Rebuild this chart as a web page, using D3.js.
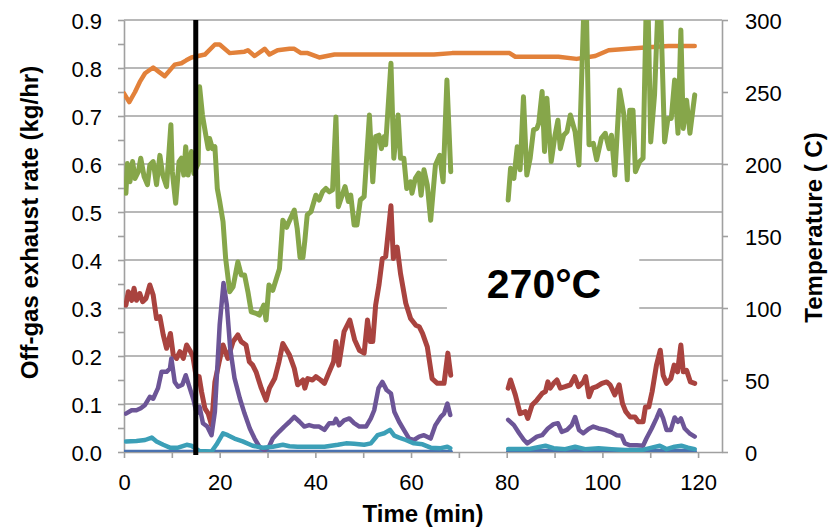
<!DOCTYPE html>
<html><head><meta charset="utf-8">
<script src="https://cdn.jsdelivr.net/npm/d3@7/dist/d3.min.js"></script>
<style>body{margin:0;background:#fff}svg{display:block}</style>
</head><body>
<svg id="c" width="838" height="529"></svg>
<script>
// ---- data (time in min, rates in kg/hr, temperature in °C) ----
const xTicks = [0, 20, 40, 60, 80, 100, 120];
const yLeftTicks = [0, 0.1, 0.2, 0.3, 0.4, 0.5, 0.6, 0.7, 0.8, 0.9];
const yRightTicks = [0, 50, 100, 150, 200, 250, 300];
const markerTime = 15;
const labelText = "270°C";

const temperature = [[0,249],[1.1,243],[2.3,250],[3.3,257],[4.4,263],[6.1,267],[7.3,264],[8.5,261],[10.6,269],[12,270],[13,272],[14.1,274],[15.5,275],[16.9,276],[19,283],[20,283],[22.1,277],[25.2,278],[25.9,279],[27.3,275],[29.4,280],[30.4,276],[32.1,279],[34.6,280],[35.6,280],[37,277],[38.4,277],[40.8,274],[44,276],[50.9,276],[57.9,276],[64.8,276],[68.6,277],[78.3,277],[80.6,277],[81.8,274.5],[85.3,274.5],[90.8,274.5],[94.6,273],[98.5,275],[101.3,279],[105.4,280],[109.6,281],[113.8,282],[116.9,282],[119.3,282]];

const green = [[0.4,0.539],[0.7,0.601],[1.25,0.563],[1.8,0.605],[2.3,0.570],[3.0,0.584],[3.5,0.612],[4.2,0.574],[4.9,0.557],[5.4,0.598],[6.1,0.605],[6.8,0.557],[7.5,0.618],[8.1,0.577],[8.9,0.553],[9.8,0.682],[10.1,0.584],[10.8,0.518],[11.5,0.605],[12.0,0.612],[12.5,0.577],[12.9,0.636],[13.4,0.577],[14.1,0.626],[14.6,0.58],[15.5,0.601],[15.8,0.761],[16.4,0.702],[17.1,0.660],[17.6,0.632],[17.9,0.653],[18.5,0.632],[19.0,0.636],[19.5,0.549],[20.0,0.522],[20.7,0.480],[21.25,0.403],[22.1,0.334],[22.8,0.344],[23.8,0.396],[24.5,0.369],[25.2,0.369],[25.9,0.334],[26.6,0.292],[27.6,0.289],[28.3,0.285],[29.2,0.306],[29.7,0.275],[30.3,0.348],[31.1,0.337],[32.5,0.382],[33.2,0.483],[34.0,0.468],[34.5,0.48],[35.6,0.504],[36.2,0.466],[36.8,0.405],[37.4,0.405],[37.8,0.44],[38.3,0.494],[39.1,0.501],[40.1,0.535],[40.8,0.525],[41.5,0.542],[42.2,0.549],[42.9,0.542],[43.6,0.546],[44.3,0.698],[44.8,0.511],[45.5,0.532],[46.2,0.553],[46.9,0.522],[47.4,0.535],[48.1,0.473],[48.7,0.473],[49.4,0.525],[50.2,0.532],[51.3,0.702],[52.0,0.563],[52.6,0.657],[53.3,0.660],[53.8,0.632],[54.4,0.657],[54.7,0.640],[55.8,0.810],[56.4,0.612],[57.3,0.702],[57.8,0.612],[58.5,0.612],[59.1,0.549],[59.9,0.563],[60.2,0.539],[60.9,0.570],[61.6,0.581],[62.1,0.535],[62.7,0.588],[63.4,0.556],[64.1,0.483],[65.1,0.598],[66.0,0.618],[66.7,0.563],[67.5,0.775],[68.3,0.584],
 [74,null],
 [80.3,0.525],[80.8,0.591],[81.5,0.570],[82.2,0.636],[82.8,0.588],[83.5,0.740],[84.2,0.577],[84.9,0.612],[85.6,0.671],[86.3,0.674],[86.7,0.685],[87.4,0.751],[87.9,0.626],[88.4,0.737],[89.3,0.605],[90.1,0.660],[90.7,0.691],[91.2,0.632],[91.9,0.660],[92.6,0.667],[93.3,0.702],[94.3,0.667],[95.1,0.598],[96.2,0.95],[96.6,0.95],[97.2,0.640],[98.1,0.643],[98.8,0.609],[99.8,0.654],[100.6,0.664],[101.4,0.632],[101.9,0.660],[102.6,0.577],[103.6,0.754],[104.5,0.702],[105.2,0.567],[105.7,0.712],[106.4,0.712],[106.9,0.584],[107.8,0.605],[108.5,0.612],[109.2,0.95],[109.5,0.95],[110.1,0.646],[110.9,0.744],[111.7,0.95],[112.1,0.95],[113.0,0.646],[113.7,0.695],[114.4,0.695],[115.1,0.775],[115.8,0.664],[116.4,0.879],[116.9,0.674],[117.6,0.733],[118.3,0.664],[119.3,0.744]];

const red = [[0.4,0.306],[0.9,0.334],[1.6,0.316],[2.1,0.341],[2.6,0.316],[3.3,0.330],[3.9,0.313],[4.6,0.320],[5.4,0.348],[6.1,0.327],[6.8,0.278],[7.5,0.282],[8.2,0.244],[8.9,0.216],[9.7,0.247],[10.3,0.202],[11.0,0.195],[11.7,0.209],[12.4,0.195],[13.1,0.223],[13.75,0.212],[14.4,0.199],[15.2,0.15],[15.7,0.157],[16.2,0.126],[16.9,0.091],[17.6,0.080],[18.3,0.056],[19.0,0.146],[19.9,0.188],[20.7,0.223],[21.7,0.195],[22.8,0.230],[23.8,0.244],[24.5,0.230],[25.5,0.223],[26.2,0.188],[26.9,0.181],[27.6,0.167],[28.7,0.133],[29.7,0.108],[30.4,0.133],[31.5,0.153],[32.4,0.188],[33.2,0.226],[34.6,0.202],[35.6,0.174],[36.3,0.140],[37.4,0.150],[37.8,0.133],[38.4,0.153],[39.4,0.150],[40.1,0.157],[41.1,0.150],[41.9,0.143],[42.9,0.167],[43.8,0.188],[44.3,0.230],[44.9,0.181],[46.0,0.251],[47.2,0.275],[48.2,0.234],[49.2,0.212],[50.2,0.206],[50.9,0.275],[51.5,0.230],[52.0,0.230],[52.6,0.306],[53.3,0.348],[54.0,0.403],[54.7,0.407],[55.8,0.513],[56.3,0.403],[57.1,0.427],[57.8,0.372],[58.9,0.310],[59.9,0.278],[61.0,0.264],[61.7,0.261],[62.4,0.247],[63.4,0.219],[64.4,0.153],[65.5,0.143],[66.9,0.143],[67.7,0.206],[68.3,0.160],
 [74,null],
 [80.3,0.133],[80.8,0.150],[81.8,0.119],[82.8,0.080],[83.9,0.084],[84.4,0.070],[85.3,0.098],[86.3,0.108],[87.4,0.122],[88.1,0.126],[88.6,0.146],[89.1,0.133],[89.8,0.143],[90.5,0.150],[91.2,0.133],[92.2,0.136],[93.3,0.140],[94.2,0.157],[95.0,0.136],[96.0,0.146],[96.5,0.157],[97.2,0.115],[97.9,0.133],[98.8,0.136],[99.9,0.143],[100.9,0.146],[101.6,0.140],[102.6,0.119],[103.5,0.140],[104.2,0.101],[104.9,0.084],[105.8,0.073],[106.8,0.073],[107.5,0.063],[108.5,0.063],[109.0,0.094],[109.7,0.094],[110.4,0.126],[111.3,0.181],[112.1,0.212],[112.7,0.160],[113.4,0.143],[114.3,0.153],[115.0,0.181],[115.7,0.167],[116.4,0.223],[116.9,0.167],[117.6,0.170],[118.4,0.146],[119.3,0.143]];

const purple = [[0.4,0.080],[1.6,0.087],[2.6,0.087],[3.5,0.091],[4.4,0.098],[5.4,0.115],[6.1,0.111],[7.1,0.133],[7.85,0.167],[8.9,0.167],[9.6,0.174],[9.9,0.195],[10.6,0.146],[11.3,0.136],[12.2,0.140],[12.9,0.160],[13.75,0.133],[14.5,0.11],[15.2,0.08],[15.8,0.094],[16.5,0.060],[17.4,0.053],[18.3,0.035],[19.0,0.084],[20.0,0.265],[20.8,0.352],[21.5,0.306],[22.2,0.216],[23.1,0.154],[24.2,0.112],[25.2,0.080],[26.3,0.049],[27.3,0.028],[28.3,0.011],[29.4,0.004],[30.3,0.011],[31.1,0.028],[32.4,0.042],[33.5,0.053],[34.6,0.063],[35.6,0.073],[36.7,0.063],[37.7,0.053],[38.7,0.056],[39.8,0.053],[40.8,0.053],[41.9,0.046],[42.9,0.060],[43.9,0.060],[44.3,0.069],[45.0,0.056],[46.0,0.066],[47.1,0.070],[48.1,0.060],[49.2,0.053],[50.6,0.053],[51.6,0.070],[52.3,0.087],[53.2,0.133],[54.0,0.146],[54.9,0.129],[55.8,0.122],[56.5,0.084],[57.5,0.063],[58.5,0.046],[59.6,0.028],[60.6,0.025],[61.7,0.032],[62.7,0.035],[64.1,0.028],[65.1,0.056],[66.2,0.073],[66.9,0.080],[67.6,0.101],[68.2,0.077],
 [74,null],
 [80.3,0.067],[81.5,0.056],[82.6,0.039],[83.6,0.025],[84.3,0.018],[85.3,0.025],[86.3,0.032],[87.4,0.035],[88.6,0.049],[89.8,0.058],[90.7,0.060],[91.5,0.042],[92.6,0.046],[93.6,0.056],[94.3,0.073],[95.1,0.046],[96.0,0.039],[97.1,0.048],[98.1,0.053],[99.2,0.049],[100.6,0.046],[101.9,0.041],[103.0,0.035],[104.0,0.034],[104.7,0.018],[105.8,0.014],[107.2,0.014],[108.5,0.013],[109.2,0.028],[110.3,0.049],[111.3,0.070],[112.0,0.087],[112.7,0.070],[113.4,0.046],[114.3,0.046],[115.1,0.072],[115.8,0.063],[116.4,0.070],[117.2,0.049],[118.2,0.039],[119.3,0.032]];

const teal = [[0.4,0.022],[2.6,0.023],[4.4,0.025],[5.8,0.030],[6.8,0.022],[8.2,0.015],[9.6,0.009],[11.3,0.009],[13.1,0.015],[14.1,0.013],[15.8,0.002],[18.3,0.001],[19.3,0.015],[20.7,0.039],[21.7,0.035],[23.1,0.028],[24.8,0.022],[26.9,0.013],[29.0,0.009],[31.1,0.011],[33.2,0.015],[34.6,0.012],[36.3,0.011],[39.1,0.011],[41.9,0.011],[44.7,0.015],[46.4,0.018],[48.1,0.017],[50.2,0.015],[51.6,0.018],[53.0,0.035],[54.4,0.039],[55.6,0.046],[56.5,0.034],[57.5,0.030],[58.9,0.025],[60.6,0.018],[62.4,0.016],[64.1,0.009],[66.2,0.008],[67.6,0.011],[68.2,0.008],
 [74,null],
 [80.3,0.006],[82.6,0.006],[84.6,0.006],[86.0,0.009],[88.1,0.013],[89.8,0.008],[92.2,0.006],[94.3,0.011],[96.4,0.006],[99.2,0.008],[101.9,0.006],[104.7,0.004],[108.2,0.004],[110.3,0.009],[112.0,0.013],[113.4,0.006],[115.1,0.011],[116.5,0.013],[117.9,0.009],[119.3,0.006]];

const blue = [[0,0.0],[68.3,0.0],[74,null],[80.3,0.0],[88,0.002],[95,0.002],[104,0.001],[112,0.002],[117,0.002],[119.3,0.001]];

// ---- layout ----
const svg = d3.select("#c");
const L = 124, R = 722, T = 20, B = 452;
const x = d3.scaleLinear([0, 125], [L, R]);
const yL = d3.scaleLinear([0, 0.9], [B, T]);
const yR = d3.scaleLinear([0, 300], [B, T]);
const FONT = "'Liberation Sans', Arial, Helvetica, sans-serif";
const GRID = "#a0a0a0";

svg.append("defs").append("clipPath").attr("id","plot")
  .append("rect").attr("x", L).attr("y", T).attr("width", R - L).attr("height", B - T);

// gridlines
svg.append("g").selectAll("line").data(yLeftTicks.filter(d => d > 0)).join("line")
  .attr("x1", L).attr("x2", R).attr("y1", d => yL(d)).attr("y2", d => yL(d))
  .attr("stroke", GRID).attr("stroke-width", 1.6);

// axes
const minorLeft = d3.range(0, 0.901, 0.05);
const gl = svg.append("g").attr("transform", `translate(${L},0)`)
  .call(d3.axisLeft(yL).tickValues(minorLeft).tickSizeInner(6).tickSizeOuter(0).tickPadding(16)
    .tickFormat((d, i) => i % 2 === 0 ? d3.format(".1f")(d) : ""));
const gr = svg.append("g").attr("transform", `translate(${R},0)`)
  .call(d3.axisRight(yR).tickValues(yRightTicks).tickSizeInner(6).tickSizeOuter(0).tickPadding(17));
const gb = svg.append("g").attr("transform", `translate(0,${B})`)
  .call(d3.axisBottom(x).tickValues(d3.range(0, 121, 10)).tickSizeInner(6).tickSizeOuter(0)
    .tickFormat(d => xTicks.includes(d) ? d : ""));
[gl, gr, gb].forEach(g => {
  g.select(".domain").attr("stroke", GRID).attr("stroke-width", 1.6);
  g.selectAll(".tick line").attr("stroke", GRID).attr("stroke-width", 1.6);
  g.selectAll("text").attr("font-family", FONT).attr("font-size", 22).attr("fill", "#000");
});
gl.selectAll("text").attr("dy", 0).attr("y", 8.5);
gr.selectAll("text").attr("dy", 0).attr("y", 8.5);
gb.selectAll("text").attr("dy", 0).attr("y", 38);

// label box
svg.append("rect").attr("x", x(67.5)).attr("y", yL(0.46)).attr("width", x(107.7) - x(67.5))
  .attr("height", yL(0.22) - yL(0.46)).attr("fill", "#fff");
svg.append("text").attr("x", x(87.8)).attr("y", yL(0.3) - 10).attr("text-anchor", "middle")
  .attr("font-family", FONT).attr("font-weight", "bold").attr("font-size", 41).text(labelText);

// series
const lineL = d3.line().defined(d => d[1] != null).x(d => x(d[0])).y(d => yL(d[1]));
const lineR = d3.line().x(d => x(d[0])).y(d => yR(d[1]));
const plot = svg.append("g").attr("clip-path", "url(#plot)");
const series = [
  {data: blue, color: "#4a72b0", w: 4.5, f: lineL},
  {data: temperature, color: "#e2813a", w: 4.5, f: lineR},
  {data: green, color: "#86a64a", w: 5, f: lineL},
  {data: red, color: "#a9433f", w: 5, f: lineL},
  {data: purple, color: "#6c5597", w: 4.5, f: lineL},
  {data: teal, color: "#3b9fb7", w: 4.5, f: lineL},
];
series.forEach(s => plot.append("path").attr("d", s.f(s.data)).attr("fill", "none")
  .attr("stroke", s.color).attr("stroke-width", s.w).attr("stroke-linejoin", "round").attr("stroke-linecap", "round"));

// marker line
svg.append("line").attr("x1", x(markerTime)).attr("x2", x(markerTime)).attr("y1", T).attr("y2", B + 3)
  .attr("stroke", "#000").attr("stroke-width", 5);

// axis titles
svg.append("text").attr("transform", `translate(38,${(62+383)/2}) rotate(-90)`).attr("text-anchor", "middle")
  .attr("font-family", FONT).attr("font-weight", "bold").attr("font-size", 24).text("Off-gas exhaust rate (kg/hr)");
svg.append("text").attr("transform", `translate(822,227.5) rotate(-90)`).attr("text-anchor", "middle")
  .attr("font-family", FONT).attr("font-weight", "bold").attr("font-size", 24).text("Temperature ( C)");
svg.append("text").attr("x", (L + R) / 2).attr("y", 522).attr("text-anchor", "middle")
  .attr("font-family", FONT).attr("font-weight", "bold").attr("font-size", 24).text("Time (min)");
</script>
</body></html>
